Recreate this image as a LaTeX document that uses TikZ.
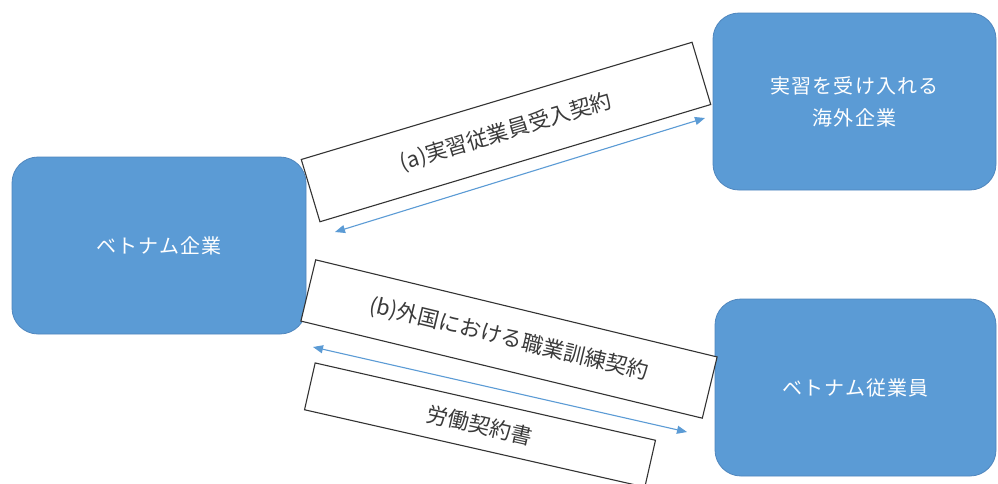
\documentclass[tikz,border=0pt]{standalone}
\usepackage{fontspec}
\newfontfamily\jp{Noto Sans CJK JP}
\newfontfamily\jpwide[LetterSpace=6]{Noto Sans CJK JP}
\usetikzlibrary{arrows.meta}
\definecolor{boxblue}{HTML}{5B9BD5}
\definecolor{boxedge}{HTML}{4F86BE}
\definecolor{arrowblue}{HTML}{5B9BD5}
\definecolor{labeltext}{HTML}{3A3A3A}
\begin{document}
\begin{tikzpicture}[x=1pt,y=-1pt,
  bluebox/.style={draw=boxedge, line width=0.8pt, fill=boxblue, rounded corners=26pt,
    text=white, align=center, font=\jpwide\fontsize{20}{32}\selectfont, inner sep=0pt},
  labelbox/.style={draw=black!80, line width=1.1pt, fill=white, inner sep=0pt,
    text=labeltext, font=\jp\fontsize{21.5}{26}\selectfont},
  conn/.style={draw=arrowblue, line width=1.1pt, {Triangle[length=10pt,width=8pt]}-{Triangle[length=10pt,width=8pt]}}
]
\path[use as bounding box] (0,0) rectangle (998,483);
\clip (0,0) rectangle (998,483);
\fill[white] (0,0) rectangle (998,483);

\node[bluebox, minimum width=294pt, minimum height=177pt] (vc) at (159,245.5) {ベトナム企業};
\node[bluebox, minimum width=283pt, minimum height=177pt] (oc) at (854.5,101.5) {実習を受け入れる\\海外企業};
\node[bluebox, minimum width=281pt, minimum height=177pt] (ve) at (855.5,387.5) {ベトナム従業員};

\node[labelbox, minimum width=408pt, minimum height=65pt, rotate=16.7] (ra) at (506,132) {(a)実習従業員受入契約};
\node[labelbox, minimum width=413pt, minimum height=63pt, rotate=-13.6] (rb) at (509,339) {(b)外国における職業訓練契約};
\node[labelbox, minimum width=349pt, minimum height=48pt, rotate=-12.8] (rc) at (480,425) {労働契約書};

\coordinate (a1) at (335,232);
\coordinate (a2) at (705,118);
\coordinate (b1) at (313,347);
\coordinate (b2) at (687,432);
\draw[conn] (a1) -- (a2);
\draw[conn] (b1) -- (b2);
\end{tikzpicture}
\end{document}
